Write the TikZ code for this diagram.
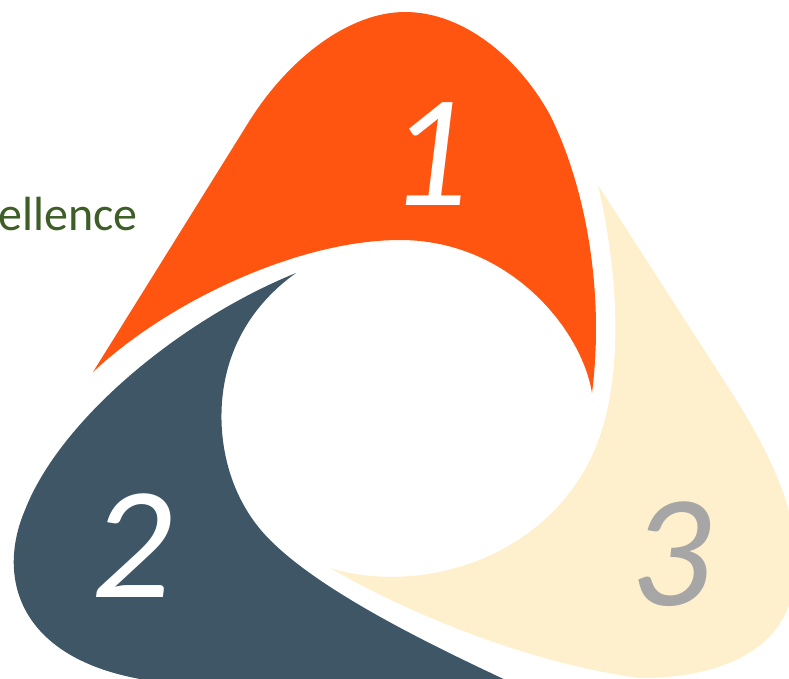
\documentclass[tikz,border=0pt]{standalone}
\usepackage{fontspec}
\setmainfont{Carlito}
\definecolor{bladeorange}{HTML}{FF5510}
\definecolor{bladeslate}{HTML}{3F5666}
\definecolor{bladecream}{HTML}{FFF0CD}
\definecolor{numgray}{HTML}{A6A6A6}
\definecolor{mossgreen}{HTML}{3D5E26}
\begin{document}
\begin{tikzpicture}[x=1pt, y=-1pt,
    numeral/.style={font=\fontsize{160}{160}\selectfont\itshape, inner sep=0pt, anchor=base}]
      \useasboundingbox (0,0) rectangle (789,678);
      \clip (0,0) rectangle (789,678);

      \fill[bladeorange] (93,372) -- (250,120) .. controls (290,57) and (350,12) .. (405,12)
        .. controls (465,12) and (520,60) .. (550,115) .. controls (585,185) and (605,290) .. (592,393)
        .. controls (582,330) and (510,240) .. (400,240) .. controls (300,240) and (170,300) .. (93,372) -- cycle;
      \fill[bladeslate] (296,273) .. controls (180,320) and (60,420) .. (25,510)
        .. controls (-5,580) and (20,665) .. (160,682) -- (510,682)
        .. controls (420,640) and (320,590) .. (270,540) .. controls (225,495) and (215,430) .. (225,380)
        .. controls (235,330) and (265,295) .. (296,273) -- cycle;
      \fill[bladecream] (598,185) -- (730,390) .. controls (775,460) and (800,520) .. (795,570)
        .. controls (795,640) and (735,678) .. (640,678) .. controls (540,665) and (420,620) .. (330,568)
        .. controls (420,595) and (540,560) .. (590,460) .. controls (625,390) and (620,280) .. (598,185) -- cycle;

      \node[font=\fontsize{48}{48}\selectfont, text=mossgreen, inner sep=0pt, anchor=base east] (motto) at (138,230) {ellence};

      \node[numeral, text=white] (one) at (429,205) {1};
      \node[numeral, text=white] (two) at (132,597) {2};
      \node[numeral, text=numgray] (three) at (671,605) {3};
    \end{tikzpicture}
\end{document}
